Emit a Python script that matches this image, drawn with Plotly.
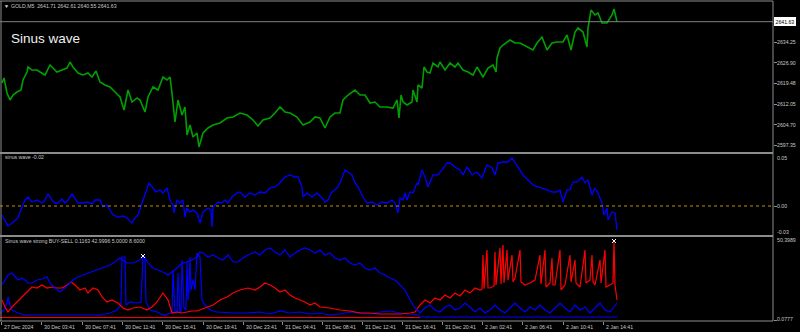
import plotly.graph_objects as go

# ---------------- data ----------------
price_x = [2,4,7,10,13,17,21,23,27,28,32,37,40,45,50,53,57,62,67,70,73,78,83,88,92,96,100,105,110,115,120,124,128,132,137,140,145,148,153,158,163,167,170,172,175,178,182,185,187,190,193,197,199,203,208,213,220,227,233,240,247,253,258,263,270,275,280,285,290,297,303,310,315,320,325,330,335,340,343,348,355,360,365,370,375,380,387,393,397,399,401,403,407,412,413,417,418,422,424,427,430,433,438,440,445,450,455,458,463,468,473,477,483,488,493,496,497,500,503,510,515,520,527,533,537,542,547,552,557,563,567,571,575,578,583,587,588,591,595,598,602,607,612,614,617]
price_close = [2619.65,2621.45,2616.07,2613.56,2615.35,2616.43,2617.14,2620.73,2623.60,2625.39,2624.31,2624.31,2623.60,2622.52,2626.11,2625.03,2623.60,2624.31,2625.03,2627.18,2625.39,2623.24,2622.52,2623.24,2621.81,2623.96,2620.01,2618.94,2618.22,2616.43,2614.64,2609.97,2617.14,2612.84,2614.28,2613.56,2609.26,2614.64,2618.22,2617.14,2621.81,2620.73,2621.81,2616.07,2605.67,2613.56,2608.18,2611.05,2601.01,2604.60,2600.30,2601.73,2596.71,2601.73,2603.52,2604.60,2605.31,2607.11,2607.47,2608.90,2608.18,2606.39,2604.24,2606.39,2607.11,2608.90,2611.05,2609.26,2608.90,2607.47,2604.60,2605.67,2607.47,2607.11,2603.52,2607.47,2608.90,2608.90,2613.56,2615.35,2617.14,2615.35,2615.35,2612.48,2612.84,2611.05,2611.05,2610.69,2613.56,2607.11,2615.35,2612.84,2611.77,2612.84,2617.14,2612.84,2618.94,2617.86,2625.39,2623.60,2623.24,2626.82,2625.39,2627.18,2624.31,2626.82,2625.39,2626.82,2624.31,2623.60,2622.52,2625.39,2621.81,2625.03,2626.11,2623.60,2628.62,2632.20,2633.28,2635.07,2633.99,2633.99,2632.56,2631.48,2633.99,2636.15,2631.48,2633.99,2634.35,2634.35,2636.86,2631.48,2637.94,2639.37,2637.94,2632.56,2639.37,2645.82,2644.03,2644.75,2641.16,2641.16,2644.03,2646.18,2641.63]

sin_x = [2,5,8,12,15,18,22,25,28,32,37,42,45,48,52,55,58,62,65,68,72,75,78,83,87,92,95,100,103,107,110,113,118,123,127,132,135,138,142,145,149,153,156,160,163,167,170,173,174,177,180,183,185,187,190,193,197,200,203,208,211,212,213,218,222,225,228,232,237,240,245,250,255,260,265,270,275,280,285,290,295,298,302,303,307,312,317,322,325,328,332,337,340,345,348,352,355,358,363,367,372,377,382,387,392,395,398,400,403,405,407,410,413,417,418,422,425,428,433,438,442,447,450,455,460,463,467,472,477,482,487,492,495,498,503,508,512,515,518,523,528,533,538,542,547,552,557,560,563,567,570,573,577,582,585,588,592,595,598,602,604,607,608,612,615,617]
sin_val = [-0.0093,-0.0145,-0.0207,-0.0176,-0.0145,-0.0124,-0.0010,0.0062,0.0093,0.0041,0.0062,0.0031,0.0062,0.0124,0.0062,0.0031,0.0031,0.0072,0.0031,0.0062,0.0124,0.0083,0.0031,0.0031,0.0041,0.0021,0.0062,0.0062,-0.0010,0.0010,-0.0041,-0.0093,-0.0114,-0.0104,-0.0124,-0.0176,-0.0124,-0.0093,0.0031,0.0114,0.0238,0.0186,0.0145,0.0166,0.0135,0.0186,0.0062,0.0010,-0.0072,0.0062,0.0031,0.0062,-0.0114,-0.0021,-0.0062,-0.0041,-0.0072,-0.0176,-0.0062,-0.0021,-0.0041,-0.0217,-0.0010,0.0041,0.0031,0.0062,0.0031,0.0093,0.0135,0.0145,0.0093,0.0135,0.0114,0.0145,0.0135,0.0186,0.0197,0.0238,0.0300,0.0321,0.0300,0.0300,0.0197,0.0093,0.0135,0.0093,0.0135,0.0083,0.0041,0.0062,0.0145,0.0186,0.0238,0.0373,0.0352,0.0321,0.0238,0.0197,0.0093,0.0031,0.0041,0.0010,0.0041,0.0031,0.0062,0.0031,-0.0072,0.0083,0.0062,0.0135,0.0062,0.0145,0.0135,0.0238,0.0217,0.0373,0.0300,0.0197,0.0321,0.0321,0.0373,0.0445,0.0445,0.0404,0.0373,0.0321,0.0404,0.0321,0.0352,0.0290,0.0424,0.0393,0.0321,0.0445,0.0455,0.0455,0.0497,0.0445,0.0393,0.0321,0.0269,0.0217,0.0197,0.0186,0.0166,0.0145,0.0145,0.0166,0.0041,0.0166,0.0166,0.0248,0.0248,0.0300,0.0238,0.0269,0.0114,0.0186,0.0135,0.0031,-0.0093,-0.0021,-0.0145,-0.0062,-0.0072,-0.0248]

buy_x = [2,5,8,12,15,18,22,25,28,32,37,42,47,50,55,60,65,68,73,78,83,90,97,103,110,115,120,127,133,140,144,148,153,158,163,168,172,177,182,187,192,197,200,203,208,213,218,223,228,233,238,243,248,255,260,265,270,275,280,285,290,295,300,305,310,315,320,325,330,335,340,345,350,355,360,365,370,375,380,385,390,395,400,405,410,415,420,425,430,435,440,445,450,455,460,465,470,475,480,485,490,495,500,505,510,515,520,525,530,535,540,545,550,555,560,565,570,575,580,585,590,595,600,605,610,614,617]
buy_val = [21.30,24.33,27.36,28.58,26.15,24.33,25.54,24.33,22.51,22.51,24.33,24.94,26.15,22.51,19.48,17.06,19.48,21.30,24.33,26.15,27.36,28.58,30.40,32.21,33.43,35.25,37.67,34.64,34.64,36.46,38.88,34.64,31.61,30.40,29.18,27.36,29.18,31.61,34.64,35.25,36.46,38.28,41.31,40.70,38.28,39.49,37.67,36.46,39.49,35.25,35.25,37.67,39.49,41.31,39.49,42.52,43.73,41.31,39.49,42.52,38.28,40.70,42.52,43.73,42.52,40.70,42.52,39.49,40.70,37.67,36.46,37.67,34.64,33.43,34.64,31.61,30.40,31.61,28.58,27.36,25.54,24.33,21.30,18.27,12.21,7.36,4.32,7.36,9.17,6.14,4.93,7.96,9.17,6.14,7.36,10.39,7.96,4.93,7.36,4.32,6.14,9.17,6.14,4.32,7.36,10.39,7.36,4.93,7.96,6.14,9.17,6.14,4.32,7.36,10.39,7.36,4.93,9.17,6.14,7.96,4.32,7.36,10.39,6.14,4.93,7.96,10.39]

sell_x = [2,5,8,12,17,22,27,32,37,42,47,52,57,62,67,71,75,80,85,88,93,98,102,107,112,118,123,128,133,140,147,152,157,163,168,172,177,182,187,192,197,200,207,213,220,227,233,240,248,255,260,265,270,275,280,285,290,295,300,305,310,315,320,330,340,350,360,370,380,390,400,410,415,420,425,430,435,440,445,450,455,460,465,470,475,480,482,483,484,487,488,490,494,495,496,500,501,503,504,507,508,512,513,515,520,521,525,530,535,540,541,545,546,550,552,553,555,560,561,565,570,571,575,576,580,585,586,590,592,593,595,600,601,605,606,610,613,614,615,617]
sell_val = [12.21,7.96,4.93,7.96,11.01,14.03,17.06,20.09,19.48,21.30,19.48,20.09,19.48,19.48,21.30,23.12,21.30,18.27,19.48,16.45,19.48,18.27,14.03,11.01,12.21,10.39,7.36,6.14,7.36,7.96,6.14,7.96,11.01,16.45,12.21,4.32,4.93,4.32,4.93,5.54,5.54,6.14,7.96,9.17,12.21,14.03,16.45,18.27,19.48,18.27,20.09,22.51,21.30,19.48,17.06,18.27,15.24,13.42,12.21,11.01,9.17,10.39,7.96,7.36,6.14,5.54,4.32,4.32,3.72,3.72,3.72,4.32,4.93,9.17,12.21,10.39,13.42,12.21,15.24,13.42,16.45,14.63,18.27,16.45,19.48,18.27,18.8,39.49,19.0,42.52,19.6,19.48,20.7,41.31,21.3,43.73,21.9,45.55,22.5,42.52,24.3,39.49,23.1,25.54,42.52,23.1,21.30,22.51,24.33,39.49,21.9,42.52,20.1,22.51,37.67,21.3,21.30,42.52,18.3,21.30,39.49,23.1,36.46,22.5,20.09,42.52,22.5,24.33,39.49,23.1,21.30,36.46,22.5,42.52,20.1,21.30,22.5,47.98,21.3,12.21]

buy_strong_x = [0,4,7,8,10,12,18,25,40,60,80,100,110,117,121,122,125,126,130,137,141,143,145,146,150,157,163,170,172,173,175,177,178,180,181,182,184,186,187,188,189,190,191,193,195,197,200,202,205,210,217,233,247,260,270,280,290,300,310,320,330,340,350,360,370,380,390,400,410,418,420,617]
buy_strong_val = [4.32,6.14,10.39,14.03,9.17,6.14,4.32,3.11,3.11,3.11,3.11,3.11,4.32,6.14,9.17,38.28,38.28,9.17,11.01,10.39,11.01,38.28,38.28,11.01,6.14,4.93,3.11,4.32,4.32,30.40,4.32,4.32,28.58,4.32,4.32,36.46,7.36,6.14,35.25,12.21,18.27,38.28,18.27,24.33,18.27,40.70,38.28,12.21,9.17,6.14,4.93,4.32,4.32,4.93,3.72,5.54,4.32,4.93,3.72,4.32,3.11,3.72,4.93,4.32,3.72,4.93,5.54,4.32,3.72,3.11,1.90,1.90]

sell_strong_x = [0, 420]
sell_strong_val = [1.6, 1.6]

signal_x = [143, 614]
signal_val = [38.88, 47.98]

time_pos = [1, 41, 82, 122, 162, 203, 243, 282, 322, 362, 402, 442, 482, 522, 563, 603]
time_labels = ["27 Dec 2024", "30 Dec 03:41", "30 Dec 07:41", "30 Dec 11:41", "30 Dec 15:41",
               "30 Dec 19:41", "30 Dec 23:41", "31 Dec 04:41", "31 Dec 08:41", "31 Dec 12:41",
               "31 Dec 16:41", "31 Dec 20:41", "2 Jan 02:41", "2 Jan 06:41", "2 Jan 10:41",
               "2 Jan 14:41"]
price_ticks = [2634.25, 2626.90, 2619.48, 2612.05, 2604.70, 2597.35]
last_price = 2641.63
header_text = "GOLD,M5  2641.71 2642.61 2640.55 2641.63"
sin_label = "sinus wave -0.02"
strong_label = "Sinus wave strong BUY-SELL 0.1163 42.9996 5.0000 8.6000"

# ---------------- figure ----------------
H = 321.0  # plot-area height in px
def py(px):
    return (H - px) / H

TXT = "#c8c8c8"
FRAME = "#8c8c8c"
FONT = "Liberation Sans, Arial, sans-serif"

fig = go.Figure()
fig.add_trace(go.Scatter(x=price_x, y=price_close, mode="lines", line=dict(color="#00a000", width=1.6),
                         xaxis="x", yaxis="y", hoverinfo="skip"))
fig.add_trace(go.Scatter(x=sin_x, y=sin_val, mode="lines", line=dict(color="#0000ff", width=1.3),
                         xaxis="x", yaxis="y2", hoverinfo="skip"))
fig.add_trace(go.Scatter(x=sell_strong_x, y=sell_strong_val, mode="lines", line=dict(color="#ff0000", width=1.2),
                         xaxis="x", yaxis="y3", hoverinfo="skip"))
fig.add_trace(go.Scatter(x=buy_strong_x, y=buy_strong_val, mode="lines", line=dict(color="#0000ff", width=1.2),
                         xaxis="x", yaxis="y3", hoverinfo="skip"))
fig.add_trace(go.Scatter(x=sell_x, y=sell_val, mode="lines", line=dict(color="#ff0000", width=1.2),
                         xaxis="x", yaxis="y3", hoverinfo="skip"))
fig.add_trace(go.Scatter(x=buy_x, y=buy_val, mode="lines", line=dict(color="#0000ff", width=1.2),
                         xaxis="x", yaxis="y3", hoverinfo="skip"))
fig.add_trace(go.Scatter(x=signal_x, y=signal_val, mode="markers",
                         marker=dict(symbol="x-thin", size=4, line=dict(color="white", width=1)),
                         xaxis="x", yaxis="y3", hoverinfo="skip"))

yax_common = dict(side="right", anchor="x", showgrid=False, zeroline=False, showline=False,
                  showticklabels=False, ticks="outside", ticklen=3, tickcolor=FRAME, fixedrange=True)

fig.update_layout(
    width=800, height=332, showlegend=False,
    margin=dict(l=0, r=27, t=0, b=11),
    paper_bgcolor="black", plot_bgcolor="black",
    xaxis=dict(range=[0, 773], anchor="y3", showgrid=False, zeroline=False, showline=False,
               showticklabels=False, ticks="outside", tickvals=time_pos, ticklen=3, tickcolor=FRAME),
    yaxis=dict(domain=[py(152), 1.0], range=[2594.92, 2649.41], tickvals=price_ticks, **yax_common),
    yaxis2=dict(domain=[py(235), py(154)], range=[-0.0300, 0.0538], tickvals=[0.0], **yax_common),
    yaxis3=dict(domain=[0.0, py(237)], range=[-0.526, 50.40], tickvals=[0.0777], **yax_common),
)

shapes = []
def hline(ypx, width=1, color=FRAME):
    shapes.append(dict(type="line", xref="paper", yref="paper", x0=0, x1=1, y0=py(ypx), y1=py(ypx),
                       line=dict(color=color, width=width)))
hline(1)
hline(153, 2)
hline(236, 2)
hline(321)
shapes.append(dict(type="line", xref="paper", yref="paper", x0=1, x1=1, y0=0, y1=py(1),
                   line=dict(color=FRAME, width=1)))
shapes.append(dict(type="line", xref="paper", yref="paper", x0=0.0013, x1=0.0013, y0=0, y1=py(1),
                   line=dict(color=FRAME, width=1)))
# current price line
shapes.append(dict(type="line", xref="paper", yref="y", x0=0, x1=1, y0=last_price, y1=last_price,
                   line=dict(color="#808080", width=1)))
# zero level in sinus wave panel
shapes.append(dict(type="line", xref="paper", yref="y2", x0=0, x1=1, y0=0, y1=0,
                   line=dict(color="#c09000", width=1, dash="dot")))
fig.update_layout(shapes=shapes)

ann = []
def label(text, x, y, xref="paper", yref="paper", size=5.2, color=TXT, xanchor="left", **kw):
    ann.append(dict(text=text, x=x, y=y, xref=xref, yref=yref, showarrow=False,
                    xanchor=xanchor, yanchor="middle", font=dict(family=FONT, size=size, color=color), **kw))

# header
label("\u25BC", 0.003, py(6), size=5, color="#e0e0e0")
label(header_text, 9 / 773, py(6))
label("Sinus wave", 9 / 773, py(38), size=13.5, color="#f0f0f0")
label(sin_label, 3 / 773, py(157))
label(strong_label, 3 / 773, py(240.5))

# right price scale
for v in price_ticks:
    label(f"{v:.2f}", 1, v, yref="y", xshift=2)
ann.append(dict(text=f"{last_price:.2f}", x=1, y=last_price, xref="paper", yref="y", showarrow=False,
                xanchor="left", yanchor="middle", xshift=1,
                font=dict(family=FONT, size=5.2, color="black"), bgcolor="white",
                bordercolor="white", borderpad=0.5))
label("0.05", 1, py(157.5), xshift=2)
label("0.00", 1, 0.0, yref="y2", xshift=2)
label("-0.03", 1, py(231.5), xshift=2)
label("50.3989", 1, py(240), xshift=2)
label("0.0777", 1, py(318.5), xshift=2)

# time scale (left-aligned labels like the terminal)
for p, t in zip(time_pos, time_labels):
    label(t, p, -5.5 / H, xref="x", xshift=1)

fig.update_layout(annotations=ann)
fig.write_html("out.html")
